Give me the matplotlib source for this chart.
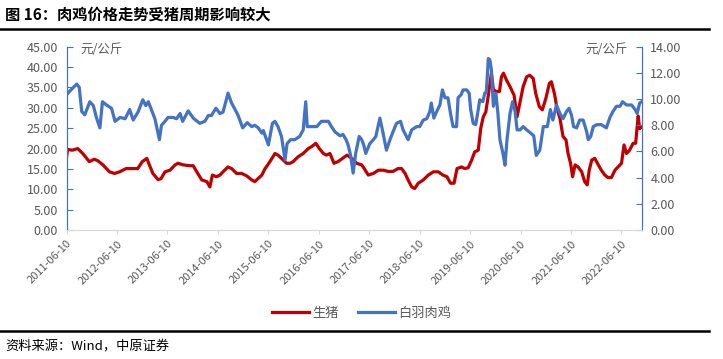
import matplotlib
matplotlib.use('Agg')
import matplotlib.pyplot as plt
import matplotlib.dates as mdates
from matplotlib.lines import Line2D
import pandas as pd

plt.rcParams['font.family'] = ['Noto Sans CJK SC', 'DejaVu Sans']  # 中文显示
plt.rcParams['axes.unicode_minus'] = False

# 生猪价格（左轴，元/公斤），时间用小数年份表示
pig_t = [2011.44, 2011.46, 2011.55, 2011.66, 2011.76, 2011.89, 2011.99, 2012.06, 2012.16, 2012.29,
         2012.39, 2012.49, 2012.62, 2012.75, 2012.85, 2012.94, 2013.03, 2013.08, 2013.15, 2013.25,
         2013.31, 2013.39, 2013.49, 2013.59, 2013.65, 2013.75, 2013.88, 2013.95, 2014.02, 2014.12,
         2014.22, 2014.28, 2014.33, 2014.41, 2014.48, 2014.54, 2014.64, 2014.71, 2014.81, 2014.91,
         2015.01, 2015.11, 2015.17, 2015.24, 2015.31, 2015.37, 2015.47, 2015.57, 2015.63, 2015.70,
         2015.80, 2015.87, 2015.93, 2016.03, 2016.13, 2016.23, 2016.30, 2016.38, 2016.45, 2016.53,
         2016.59, 2016.66, 2016.74, 2016.82, 2016.91, 2017.00, 2017.09, 2017.19, 2017.29, 2017.34,
         2017.42, 2017.52, 2017.62, 2017.72, 2017.81, 2017.91, 2018.01, 2018.08, 2018.15, 2018.21,
         2018.28, 2018.34, 2018.41, 2018.51, 2018.61, 2018.71, 2018.81, 2018.90, 2018.98, 2019.05,
         2019.12, 2019.18, 2019.27, 2019.33, 2019.40, 2019.47, 2019.53, 2019.60, 2019.65, 2019.70,
         2019.75, 2019.80, 2019.86, 2019.90, 2019.96, 2020.02, 2020.06, 2020.10, 2020.16, 2020.23,
         2020.31, 2020.37, 2020.43, 2020.49, 2020.56, 2020.62, 2020.69, 2020.74, 2020.81, 2020.87,
         2020.94, 2021.01, 2021.05, 2021.11, 2021.16, 2021.22, 2021.28, 2021.34, 2021.38, 2021.43,
         2021.47, 2021.52, 2021.58, 2021.65, 2021.71, 2021.76, 2021.80, 2021.85, 2021.91, 2021.98,
         2022.04, 2022.11, 2022.17, 2022.24, 2022.31, 2022.37, 2022.44, 2022.49, 2022.54, 2022.60,
         2022.67, 2022.72, 2022.77, 2022.80, 2022.84]
pig = [18.0, 19.8, 19.6, 20.0, 18.8, 16.8, 17.4, 17.0, 16.0, 14.3,
       13.9, 14.3, 15.1, 15.1, 15.1, 16.8, 17.6, 16.0, 13.9, 12.4,
       12.6, 14.3, 14.7, 16.0, 16.4, 16.0, 15.8, 15.8, 14.3, 12.3,
       11.9, 10.6, 13.5, 13.1, 13.5, 14.3, 15.5, 15.1, 13.9, 13.9,
       13.3, 12.3, 11.9, 12.7, 13.5, 15.0, 16.8, 18.8, 18.4, 17.6,
       16.4, 16.4, 16.8, 18.0, 18.8, 20.0, 20.5, 21.3, 20.0, 18.8,
       18.4, 18.8, 16.4, 16.8, 17.6, 18.4, 17.6, 16.4, 16.0, 15.1,
       13.5, 13.9, 14.7, 14.7, 14.4, 14.4, 15.1, 15.1, 13.9, 12.3,
       10.6, 10.2, 11.5, 12.3, 13.5, 14.3, 14.3, 13.5, 13.1, 11.5,
       11.5, 15.1, 15.5, 15.1, 15.3, 17.2, 19.2, 19.6, 25.0, 27.8,
       29.0, 33.1, 38.5, 34.4, 34.0, 34.0, 37.6, 38.5, 36.8, 35.2,
       33.1, 27.8, 31.5, 35.2, 37.6, 38.0, 37.2, 33.5, 30.3, 29.5,
       32.3, 36.0, 36.4, 33.5, 29.9, 27.4, 23.0, 22.1, 18.8, 16.4,
       13.1, 16.0, 15.5, 14.3, 11.9, 11.1, 14.7, 17.2, 17.6, 16.0,
       14.7, 13.5, 12.9, 12.9, 14.7, 15.5, 16.4, 20.9, 18.8, 19.6,
       21.3, 21.3, 28.0, 24.9, 25.3]

# 白羽肉鸡价格（右轴，元/公斤）
chicken_t = [2011.44, 2011.50, 2011.64, 2011.69, 2011.74, 2011.80, 2011.90, 2011.97, 2012.03, 2012.10,
             2012.15, 2012.23, 2012.33, 2012.40, 2012.50, 2012.60, 2012.69, 2012.76, 2012.86, 2012.95,
             2013.01, 2013.06, 2013.12, 2013.19, 2013.28, 2013.32, 2013.39, 2013.45, 2013.55, 2013.62,
             2013.69, 2013.74, 2013.85, 2013.95, 2014.08, 2014.18, 2014.25, 2014.31, 2014.40, 2014.48,
             2014.54, 2014.64, 2014.71, 2014.78, 2014.84, 2014.93, 2015.02, 2015.11, 2015.17, 2015.24,
             2015.31, 2015.34, 2015.44, 2015.52, 2015.57, 2015.63, 2015.70, 2015.77, 2015.81, 2015.88,
             2015.96, 2016.06, 2016.13, 2016.18, 2016.21, 2016.30, 2016.40, 2016.49, 2016.63, 2016.69,
             2016.76, 2016.86, 2016.92, 2016.98, 2017.02, 2017.07, 2017.12, 2017.17, 2017.24, 2017.29,
             2017.33, 2017.37, 2017.45, 2017.52, 2017.57, 2017.65, 2017.70, 2017.78, 2017.85, 2017.91,
             2017.98, 2018.06, 2018.11, 2018.21, 2018.28, 2018.38, 2018.44, 2018.51, 2018.58, 2018.64,
             2018.67, 2018.72, 2018.77, 2018.84, 2018.89, 2018.94, 2019.00, 2019.05, 2019.10, 2019.17,
             2019.20, 2019.26, 2019.30, 2019.37, 2019.42, 2019.45, 2019.50, 2019.55, 2019.60, 2019.63,
             2019.69, 2019.73, 2019.76, 2019.80, 2019.83, 2019.86, 2019.90, 2019.95, 2019.99, 2020.03,
             2020.09, 2020.13, 2020.17, 2020.23, 2020.28, 2020.33, 2020.37, 2020.43, 2020.49, 2020.56,
             2020.64, 2020.70, 2020.75, 2020.82, 2020.89, 2020.97, 2021.03, 2021.08, 2021.15, 2021.22,
             2021.28, 2021.35, 2021.40, 2021.45, 2021.49, 2021.55, 2021.61, 2021.68, 2021.75, 2021.78,
             2021.83, 2021.88, 2021.95, 2022.04, 2022.14, 2022.21, 2022.27, 2022.34, 2022.41, 2022.46,
             2022.54, 2022.64, 2022.71, 2022.75, 2022.80, 2022.84]
chicken = [10.33, 10.6, 11.15, 10.9, 9.05, 8.8, 9.8, 9.5, 8.6, 7.8,
           9.8, 9.55, 9.3, 8.3, 8.6, 8.5, 9.2, 8.4, 9.05, 9.95,
           9.5, 9.8, 9.2, 8.5, 6.9, 8.0, 8.3, 8.6, 8.6, 8.5,
           8.9, 8.3, 9.1, 8.55, 8.15, 8.3, 8.75, 8.75, 9.3, 8.9,
           9.0, 10.45, 9.7, 9.2, 8.75, 7.8, 8.2, 7.9, 8.0, 7.8,
           7.4, 7.6, 6.5, 8.15, 8.3, 7.9, 7.15, 5.35, 6.6, 6.9,
           6.9, 7.15, 7.65, 9.8, 7.9, 7.9, 7.9, 8.3, 8.3, 7.9,
           7.5, 7.2, 7.3, 6.9, 6.5, 5.7, 4.35, 5.85, 7.15, 6.9,
           6.5, 5.85, 6.6, 6.9, 7.15, 8.55, 7.65, 6.1, 6.9, 7.5,
           8.15, 8.3, 7.65, 6.9, 7.65, 7.9, 7.9, 8.4, 8.5, 9.05,
           9.7, 8.55, 9.0, 9.55, 10.7, 10.1, 10.1, 8.9, 7.9, 7.9,
           10.1, 10.33, 10.7, 10.7, 10.45, 9.2, 8.15, 8.05, 9.2, 9.95,
           9.8, 10.45, 10.5, 13.1, 13.0, 12.25, 9.45, 10.45, 8.9, 6.9,
           5.85, 4.95, 6.9, 8.9, 9.8, 9.05, 7.65, 7.65, 7.9, 7.65,
           7.4, 7.2, 5.7, 6.1, 7.9, 7.9, 9.2, 8.4, 9.55, 8.9,
           8.5, 9.05, 9.3, 8.75, 7.9, 7.8, 8.4, 8.4, 7.5, 6.9,
           7.15, 7.9, 8.05, 8.05, 7.8, 8.6, 9.05, 9.45, 9.45, 9.8,
           9.55, 9.55, 9.2, 8.9, 9.7, 9.8]

tick_years = list(range(2011, 2023))


def to_date(ts):
    # 小数年份 -> 日期
    return [pd.Timestamp('2011-01-01') + pd.to_timedelta((t - 2011) * 365.25, unit='D') for t in ts]


red = '#C00000'
blue = '#4472C4'
gray = '#595959'

fig = plt.figure(figsize=(7.23, 3.59), dpi=100)
ax = fig.add_axes([0.092, 0.359, 0.796, 0.511])
ax2 = ax.twinx()

ax.plot(to_date(pig_t), pig, color=red, lw=2.3, label='生猪')
ax2.plot(to_date(chicken_t), chicken, color=blue, lw=2.3, label='白羽肉鸡')

ax.set_ylim(0, 45)
ax.set_yticks(range(0, 46, 5))
ax.yaxis.set_major_formatter(matplotlib.ticker.FormatStrFormatter('%.2f'))
ax2.set_ylim(0, 14)
ax2.set_yticks(range(0, 15, 2))
ax2.yaxis.set_major_formatter(matplotlib.ticker.FormatStrFormatter('%.2f'))

ax.set_xlim(pd.Timestamp('2011-06-10'), pd.Timestamp('2022-11-06'))
ax.set_xticks([pd.Timestamp(f'{y}-06-10') for y in tick_years])
ax.xaxis.set_major_formatter(mdates.DateFormatter('%Y-%m-%d'))
for lab in ax.get_xticklabels():
    lab.set_rotation(45)
    lab.set_ha('right')
    lab.set_rotation_mode('anchor')

for a in (ax, ax2):
    a.spines['top'].set_visible(False)
    a.spines['left'].set_color(blue)
    a.spines['right'].set_color(blue)
    a.spines['bottom'].set_color('#d9d9d9')
ax.tick_params(axis='y', direction='in', length=4, color=blue, labelsize=9, labelcolor=gray, pad=6)
ax2.tick_params(axis='y', direction='in', length=4, color=blue, labelsize=9, labelcolor=gray, pad=6)
ax.tick_params(axis='x', direction='out', length=3, color='#d9d9d9', labelsize=8, labelcolor=gray, pad=3)

ax.text(0.025, 0.985, '元/公斤', transform=ax.transAxes, fontsize=9, color=gray, va='center')
ax.text(0.975, 0.985, '元/公斤', transform=ax.transAxes, fontsize=9, color=gray, va='center', ha='right')

h1, l1 = ax.get_legend_handles_labels()
h2, l2 = ax2.get_legend_handles_labels()
fig.legend(h1 + h2, l1 + l2, loc='center', bbox_to_anchor=(0.5, 0.128), ncol=2, frameon=False,
           fontsize=9.5, handlelength=2.8, handletextpad=0.2, columnspacing=1.5, labelcolor=gray)

# 标题、分隔线、来源
fig.text(0.007, 0.958, '图 16：肉鸡价格走势受猪周期影响较大', fontsize=11, fontweight='bold', va='center')
fig.add_artist(Line2D([0, 0.98], [0.92, 0.92], color='black', lw=1.8))
fig.add_artist(Line2D([0, 0.98], [0.078, 0.078], color='black', lw=1.8))
fig.text(0.007, 0.033, '资料来源：Wind，中原证券', fontsize=9.5, va='center')

plt.savefig('out.png')
